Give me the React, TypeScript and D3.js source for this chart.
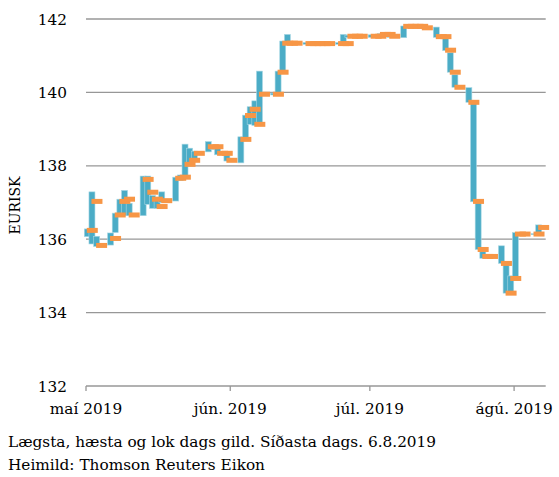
import React from "react";
import * as d3 from "d3";

const dates: string[] = [
  "2019-05-01","2019-05-02","2019-05-03","2019-05-06","2019-05-07","2019-05-08","2019-05-09","2019-05-10",
  "2019-05-13","2019-05-14","2019-05-15","2019-05-16","2019-05-17","2019-05-20","2019-05-21","2019-05-22",
  "2019-05-23","2019-05-24","2019-05-27","2019-05-28","2019-05-29","2019-05-30","2019-05-31","2019-06-03",
  "2019-06-04","2019-06-05","2019-06-06","2019-06-07","2019-06-10","2019-06-11","2019-06-12","2019-06-13",
  "2019-06-14","2019-06-17","2019-06-18","2019-06-19","2019-06-20","2019-06-21","2019-06-24","2019-06-25",
  "2019-06-26","2019-06-27","2019-06-28","2019-07-01","2019-07-02","2019-07-03","2019-07-04","2019-07-05",
  "2019-07-08","2019-07-09","2019-07-10","2019-07-11","2019-07-12","2019-07-15","2019-07-16","2019-07-17",
  "2019-07-18","2019-07-19","2019-07-22","2019-07-23","2019-07-24","2019-07-25","2019-07-26","2019-07-29",
  "2019-07-30","2019-07-31","2019-08-01","2019-08-02","2019-08-05","2019-08-06",
];

const highs: number[] = [
  136.28,137.29,136.08,136.17,136.71,137.09,137.33,136.98,
  137.72,137.72,137.19,137.05,137.29,137.69,137.75,138.59,
  138.48,138.40,138.66,138.55,138.48,138.36,138.30,138.79,
  139.38,139.61,139.77,140.58,139.98,140.58,141.40,141.58,
  141.36,141.36,141.35,141.35,141.35,141.35,141.36,141.58,
  141.56,141.56,141.56,141.57,141.56,141.60,141.60,141.56,
  141.81,141.82,141.82,141.82,141.80,141.78,141.55,141.47,
  141.08,140.48,140.13,139.71,136.99,135.66,135.55,135.82,
  135.34,135.00,136.18,136.16,136.15,136.39,
];

const lows: number[] = [
  136.07,135.87,135.80,135.84,136.18,136.64,136.64,136.64,
  136.64,136.95,136.84,136.84,137.00,137.04,137.60,137.70,
  138.00,138.20,138.38,138.45,138.30,138.30,138.13,138.08,
  138.77,139.13,139.10,139.12,139.93,139.98,140.58,141.32,
  141.32,141.31,141.31,141.31,141.31,141.31,141.31,141.31,
  141.50,141.50,141.50,141.50,141.50,141.55,141.55,141.50,
  141.49,141.77,141.77,141.77,141.74,141.50,141.50,141.14,
  140.55,140.14,139.73,137.02,135.72,135.48,135.50,135.34,
  134.53,134.55,134.89,136.12,136.13,136.16,
];

const closes: number[] = [
  136.24,137.03,135.83,136.02,136.66,137.03,137.09,136.66,
  137.63,137.28,137.09,136.89,137.05,137.66,137.69,138.04,
  138.15,138.34,138.52,138.52,138.34,138.34,138.15,138.72,
  139.37,139.54,139.13,139.95,139.95,140.55,141.34,141.34,
  141.34,141.33,141.33,141.33,141.33,141.33,141.33,141.33,
  141.53,141.53,141.53,141.53,141.53,141.58,141.58,141.53,
  141.80,141.80,141.80,141.80,141.76,141.52,141.52,141.15,
  140.55,140.14,139.73,137.03,135.72,135.53,135.53,135.34,
  134.53,134.93,136.14,136.14,136.14,136.32,
];

const yTicks: number[] = [132, 134, 136, 138, 140, 142];
const xTickDates: string[] = ["2019-05-01", "2019-06-01", "2019-07-01", "2019-08-01"];
const xTickLabels: string[] = ["maí 2019", "jún. 2019", "júl. 2019", "ágú. 2019"];
const yTitle = "EURISK";
const footnotes: string[] = [
  "Lægsta, hæsta og lok dags gild. Síðasta dags. 6.8.2019",
  "Heimild: Thomson Reuters Eikon",
];

const W = 559;
const H = 477;
const left = 86;
const right = 545.7;
const top = 19;
const bottom = 386;

export default function App() {
  const parse = d3.utcParse("%Y-%m-%d");
  const x = d3
    .scaleUtc()
    .domain([parse("2019-05-01")!, new Date(Date.UTC(2019, 7, 7, 19))])
    .range([left, right]);
  const y = d3.scaleLinear().domain([132, 142]).range([bottom, top]);

  const data = dates.map((d, i) => ({
    date: parse(d)!,
    high: highs[i],
    low: lows[i],
    close: closes[i],
  }));

  const shift = 1.3;
  const barW = 6;
  const markW = 11;
  const markH = 5;
  const blue = "#4BACC6";
  const orange = "#F79646";
  const grid = "#979797";
  const font = "'DejaVu Serif', serif";

  return (
    <svg
      width={W}
      height={H}
      style={{ position: "absolute", left: 0, top: 0, background: "#fff" }}
    >
      {yTicks.map((t) => (
        <line
          key={"g" + t}
          x1={left}
          x2={right}
          y1={y(t)}
          y2={y(t)}
          stroke={grid}
          strokeWidth={1.3}
        />
      ))}
      {xTickDates.map((d) => (
        <line
          key={"t" + d}
          x1={x(parse(d)!)}
          x2={x(parse(d)!)}
          y1={bottom}
          y2={bottom + 5}
          stroke={grid}
          strokeWidth={1.3}
        />
      ))}
      {yTicks.map((t) => (
        <text
          key={"yl" + t}
          x={67}
          y={y(t)}
          dy="0.36em"
          textAnchor="end"
          fontFamily={font}
          fontSize={15.3}
          fill="#000"
        >
          {t}
        </text>
      ))}
      {xTickDates.map((d, i) => (
        <text
          key={"xl" + d}
          x={x(parse(d)!)}
          y={414}
          textAnchor="middle"
          fontFamily={font}
          fontSize={15.3}
          fill="#000"
        >
          {xTickLabels[i]}
        </text>
      ))}
      <text
        transform={`translate(20,${(top + bottom) / 2 + 3}) rotate(-90)`}
        textAnchor="middle"
        fontFamily={font}
        fontSize={14}
        fill="#000"
      >
        {yTitle}
      </text>
      <g>
        {data.map((d, i) => (
          <rect
            key={"b" + i}
            x={x(d.date) + shift - barW / 2}
            y={y(d.high)}
            width={barW}
            height={Math.max(1, y(d.low) - y(d.high))}
            fill={blue}
            stroke="#a9d8e4"
            strokeWidth={0.6}
          />
        ))}
      </g>
      <g>
        {data.map((d, i) => (
          <rect
            key={"c" + i}
            x={x(d.date) + shift - 0.5}
            y={y(d.close) - markH / 2}
            width={markW}
            height={markH}
            fill={orange}
          />
        ))}
      </g>
      {footnotes.map((f, i) => (
        <text
          key={"f" + i}
          x={8}
          y={447 + i * 23}
          fontFamily={font}
          fontSize={15.3}
          fill="#000"
        >
          {f}
        </text>
      ))}
    </svg>
  );
}
